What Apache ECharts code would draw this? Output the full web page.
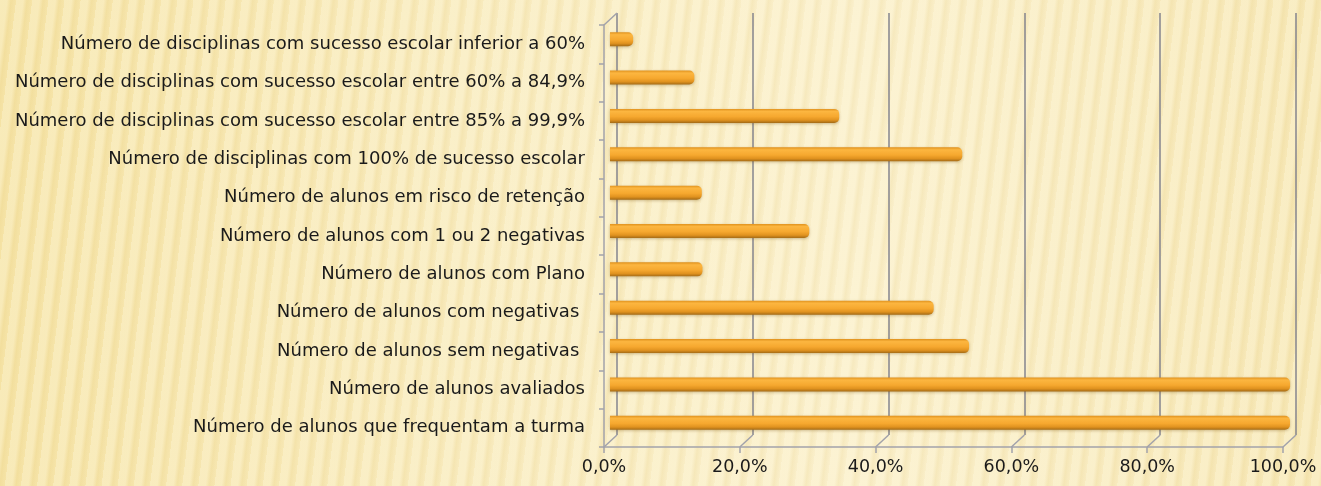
<!DOCTYPE html>
<html>
<head>
<meta charset="utf-8">
<script src="https://cdn.jsdelivr.net/npm/echarts@6/dist/echarts.min.js"></script>
<style>
  html, body { margin: 0; padding: 0; }
  #chart {
    width: 1321px; height: 486px;
    background-color: #f8ebbd;
    background-image:
      repeating-linear-gradient(97deg, rgba(255,250,225,0.35) 0px, rgba(255,250,225,0.35) 7px, rgba(225,200,120,0.14) 11px, rgba(255,250,225,0.05) 16px),
      linear-gradient(90deg, #f5e2a3 0%, #f8eabc 35%, #faefcb 65%, #f6e6b3 100%);
  }
</style>
</head>
<body>
<div id="chart"></div>
<script>
const categories = [
  'Número de disciplinas com sucesso escolar inferior a 60%',
  'Número de disciplinas com sucesso escolar entre 60% a 84,9%',
  'Número de disciplinas com sucesso escolar entre 85% a 99,9%',
  'Número de disciplinas com 100% de sucesso escolar',
  'Número de alunos em risco de retenção',
  'Número de alunos com 1 ou 2 negativas',
  'Número de alunos com Plano',
  'Número de alunos com negativas ',
  'Número de alunos sem negativas ',
  'Número de alunos avaliados',
  'Número de alunos que frequentam a turma'
]
const percentages = [3.4, 12.4, 33.7, 51.8, 13.5, 29.3, 13.6, 47.6, 52.8, 100, 100]
const xTicks = [0, 20, 40, 60, 80, 100]

const chart = echarts.init(document.getElementById('chart'))

const axisGray = '#a2a2aa'
const gridGray = '#84848e'
const textFont = 'DejaVu Sans'
const depth = [13, -12]

// linhas de profundidade (chão e canto superior esquerdo)
const depthLines = xTicks.map(v => [v, 0]).concat([[0, 1]])

const option = {
  animation: false,
  backgroundColor: 'transparent',
  grid: [
    { left: 604, right: 38, top: 25, bottom: 39 },
    { left: 617, right: 25, top: 13, bottom: 51 },
    { left: 610, right: 31, top: 20, bottom: 44 }
  ],
  xAxis: [
    {
      type: 'value', gridIndex: 0, min: 0, max: 100, interval: 20,
      axisLine: { show: true, lineStyle: { color: axisGray, width: 1.5 } },
      axisTick: { show: true, length: 6, lineStyle: { color: axisGray, width: 1.5 } },
      splitLine: { show: false },
      axisLabel: {
        color: '#1a1a1a', fontSize: 17.5, fontFamily: textFont, margin: 11,
        formatter: v => v.toFixed(1).replace('.', ',') + '%'
      }
    },
    {
      type: 'value', gridIndex: 1, min: 0, max: 100, interval: 20,
      axisLine: { show: false }, axisTick: { show: false }, axisLabel: { show: false },
      splitLine: { show: true, lineStyle: { color: gridGray, width: 1.5 } }
    },
    {
      type: 'value', gridIndex: 2, min: 0, max: 100, show: false
    }
  ],
  yAxis: [
    {
      type: 'category', gridIndex: 0, data: categories, inverse: true,
      axisLine: { show: true, lineStyle: { color: axisGray, width: 1.5 } },
      axisTick: { show: true, length: 5, lineStyle: { color: axisGray, width: 1.5 } },
      axisLabel: { color: '#1a1a1a', fontSize: 18, fontFamily: textFont, margin: 19 }
    },
    {
      type: 'category', gridIndex: 1, data: categories, inverse: true, show: false
    },
    {
      type: 'category', gridIndex: 2, data: categories, inverse: true, show: false
    }
  ],
  series: [
    {
      type: 'custom',
      xAxisIndex: 0, yAxisIndex: 0,
      silent: true,
      data: depthLines,
      renderItem: (params, api) => {
        const cs = params.coordSys
        const x = api.coord([api.value(0), 0])[0]
        const y = api.value(1) === 1 ? cs.y : cs.y + cs.height
        return {
          type: 'line',
          shape: { x1: x, y1: y, x2: x + depth[0], y2: y + depth[1] },
          style: { stroke: axisGray, lineWidth: 1.5 }
        }
      }
    },
    {
      type: 'bar',
      xAxisIndex: 2, yAxisIndex: 2,
      data: percentages,
      barWidth: 14,
      itemStyle: {
        borderRadius: [0, 5, 5, 0],
        color: new echarts.graphic.LinearGradient(0, 0, 0, 1, [
          { offset: 0, color: '#e0921e' },
          { offset: 0.18, color: '#fcb640' },
          { offset: 0.55, color: '#f6a82f' },
          { offset: 0.8, color: '#e0921f' },
          { offset: 1, color: '#a46b16' }
        ]),
        shadowColor: 'rgba(120,80,10,0.35)',
        shadowBlur: 3,
        shadowOffsetY: 1
      }
    }
  ]
}

chart.setOption(option)
</script>
</body>
</html>
